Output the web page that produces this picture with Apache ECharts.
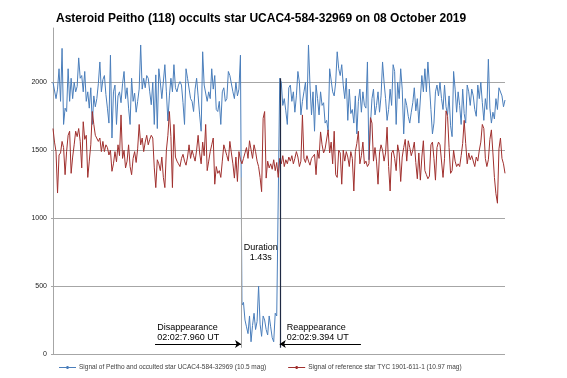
<!DOCTYPE html>
<html>
<head>
<meta charset="utf-8">
<script src="https://cdn.jsdelivr.net/npm/echarts@6/dist/echarts.min.js"></script>
<style>
  html, body { margin: 0; padding: 0; background: #fff; }
  #main { width: 567px; height: 378px; }
</style>
</head>
<body>
<div id="main"></div>
<script>
var seriesNames = ['Signal of Peitho and occulted star UCAC4-584-32969 (10.5 mag)',
                   'Signal of reference star TYC 1901-611-1 (10.97 mag)'];

// occulted star, frame by frame
var peitho = [
  2000, 1990, 1880, 1950, 2100, 1860, 2250, 1690, 1810, 1785, 2100, 1860, 2030, 1880, 2000, 1930, 1970, 2180,
  2030, 2050, 1930, 2080, 1860, 1930, 1810, 1960, 1690, 1900, 1820, 1880, 1990, 2150, 1930, 2020, 2050, 1910, 1810, 1700,
  2200, 1590, 1930, 1980, 1690, 1900, 1930, 1850, 1990, 2080, 1880, 1960, 1810, 1690, 2030, 1860, 1920, 1780, 1860, 1950,
  2275, 1950, 2030, 1960,
  2050, 2030, 1930, 1835, 2000, 1690, 2055, 1660, 2100, 2000, 1880, 1880, 2130, 1930, 1715, 1900, 2030, 1930, 2130, 1960,
  1930, 1980, 2005, 1980, 1850, 1690, 2100, 2030, 2030, 1880, 1860, 1785, 1950, 2030, 1900, 1760, 1640, 2225, 1980, 1980,
  1860, 1930, 1880, 2100, 1950, 2050, 1800, 1785, 1860, 1690, 1930, 1960, 1860, 1880, 2080, 2050, 2050, 1930, 1880, 2000,
  1900, 1950, 2200,
  360, 380, 250, 200, 150, 280, 90, 210, 300, 180, 240, 500, 220, 130, 280, 250, 180, 140, 280, 200, 120, 90, 300, 280, 270,
  2030, 2000, 1830, 1880, 1790, 1690, 1960, 1980, 1860, 1930, 1780, 1900, 2080, 2000, 1760, 1860, 1930, 2000, 1800, 2275,
  1980, 1760, 1930, 1640, 1980, 1880, 1760, 1930, 1830, 1850, 1700,
  1720, 1640, 2100, 2100, 1930, 1900, 2000, 2225, 2100, 2050, 2130, 1980, 1880, 2030, 1720, 1950, 1770, 1800, 1700, 1900,
  1620, 1860, 1950, 1780, 1930, 1830, 1810, 2150, 1430, 1690, 1880, 1950, 1760, 1830, 1930, 1780, 1900, 2150, 2000, 1880,
  1720, 1800, 1950, 1830, 2130, 2080, 1690, 2000, 1880, 2100, 1950, 1620, 1880, 1830, 1750, 1700, 1780, 1850, 1960, 1790,
  1880, 1700, 1700, 2050, 1930, 2100, 1930, 2150, 1980, 1800, 1620, 1700, 1930, 1980, 1900, 2000, 1880, 1800, 1980, 1820,
  1760, 1900, 1680, 1600, 2080, 1950, 1780, 1930, 1830, 1690, 1950, 1770, 1700, 1980, 1930, 1830, 1950, 1900, 1800, 1750,
  1980, 1880, 2000, 1850, 1720, 1880, 1800, 2170, 1810, 1700, 1780, 1730, 1880, 1800, 1960, 1960, 1900, 1820, 1870
];

// reference star
var reference = [
  1660, 1560, 1490, 1185, 1465, 1480, 1565, 1520, 1320, 1490, 1610, 1640, 1330, 1450, 1540, 1640, 1600, 1660, 1565, 1370,
  1710, 1580, 1610, 1300, 1420, 1540, 1785, 1690, 1610, 1620, 1565, 1590, 1490, 1565, 1490, 1540, 1520, 1465, 1500, 1345,
  1400, 1490, 1415, 1540, 1460, 1760, 1440, 1500, 1370, 1420, 1540, 1380, 1320, 1440, 1490, 1410, 1510, 1690, 1540, 1590,
  1490, 1560,
  1610, 1540, 1580, 1610, 1590, 1370, 1225, 1430, 1400, 1350, 1450, 1300, 1225, 1500, 1610, 1785, 1600, 1225, 1690, 1450,
  1420, 1400, 1380, 1440, 1470, 1420, 1390, 1450, 1540, 1440, 1500, 1460, 1420, 1500, 1610, 1480, 1400, 1560, 1460, 1690,
  1350, 1420, 1490, 1540, 1590, 1250, 1380, 1330, 1350, 1300, 1420, 1540, 1550, 1460, 1420, 1565, 1480, 1400, 1295, 1450,
  1270, 1490, 1430,
  1400, 1440, 1480, 1520, 1440, 1570, 1565, 1440, 1540, 1490, 1420, 1380, 1300, 1195, 1735, 1785, 1295, 1420, 1370, 1400,
  1360, 1430, 1350, 1410, 1300,
  1440, 1400, 1460, 1380, 1430, 1400, 1450, 1420, 1460, 1400, 1440, 1490, 1450, 1380, 1420, 1760, 1440, 1410, 1460, 1420,
  1390, 1440, 1430, 1470, 1320, 1500, 1440, 1635, 1540, 1480, 1510,
  1520, 1650, 1480, 1560, 1400, 1640, 1320, 1300, 1500, 1480, 1250, 1500, 1420, 1490, 1450, 1380, 1490, 1440, 1200, 1490,
  1550, 1640, 1400, 1460, 1560, 1400, 1420, 1380, 1400, 1740, 1700, 1420, 1520, 1420, 1250, 1480, 1540, 1500, 1420, 1480,
  1670, 1380, 1200, 1480, 1500, 1440, 1350, 1540, 1480, 1270, 1450, 1520, 1580, 1420, 1570, 1520, 1460, 1500, 1560, 1410,
  1290, 1480, 1280, 1450, 1570, 1350, 1320, 1290, 1310, 1540, 1560, 1440, 1280, 1520, 1560, 1540, 1540, 1300, 1440, 1790,
  1750, 1520, 1330, 1350, 1500, 1420, 1380, 1400, 1380, 1460, 1550, 1720, 1550, 1400, 1480, 1430, 1460, 1470, 1380, 1450,
  1420, 1500, 1560, 1690, 1660, 1440, 1380, 1430, 1580, 1650, 1480, 1300, 1180, 1110, 1510, 1590, 1440, 1400, 1330
];

var yTicks = [0, 500, 1000, 1500, 2000];

var peithoData = peitho.map(function(v, i) { return [i, v]; });
var refData = reference.map(function(v, i) { return [i, v]; });

var myChart = echarts.init(document.getElementById('main'));

var annoText = { color: '#000', fontFamily: 'Liberation Sans', fontSize: 9, lineHeight: 10 };

// excel style legend key: thin line with a tiny marker in the middle
var legendKey = 'path://M0,4.5L17,4.5L17,5.5L0,5.5Z M7.5,3.5L9.5,3.5L9.5,6.5L7.5,6.5Z';

option = {
    animation: false,
    title: {
        text: 'Asteroid Peitho (118) occults star UCAC4-584-32969 on 08 October 2019',
        left: 51,
        top: 8,
        textStyle: { fontFamily: 'Liberation Sans', fontWeight: 'bold', fontSize: 12, color: '#000' }
    },
    legend: {
        data: [
            { name: seriesNames[0], icon: legendKey },
            { name: seriesNames[1], icon: legendKey }
        ],
        left: 54,
        top: 359,
        itemWidth: 17,
        itemHeight: 10,
        itemGap: 22,
        textStyle: { fontFamily: 'Liberation Sans', fontSize: 6.5, color: '#404040', padding: [0, 0, 0, -2] }
    },
    grid: { left: 53, right: 62, top: 28, bottom: 24 },
    xAxis: {
        type: 'value',
        min: 0,
        max: peitho.length - 1,
        axisLine: { show: false },
        axisTick: { show: false },
        axisLabel: { show: false },
        splitLine: { show: false }
    },
    yAxis: {
        type: 'value',
        min: 0,
        max: 2400,
        interval: 500,
        axisLine: { show: true, lineStyle: { color: '#a6a6a6' } },
        axisTick: { show: true, length: 2, lineStyle: { color: '#a6a6a6' } },
        axisLabel: {
            showMaxLabel: false,
            margin: 6,
            fontFamily: 'Liberation Sans',
            fontSize: 7,
            color: '#222',
            formatter: function(v) { return yTicks.indexOf(v) >= 0 ? String(v) : ''; }
        },
        splitLine: { showMaxLine: false, lineStyle: { color: '#a6a6a6', width: 1 } }
    },
    series: [
        {
            name: seriesNames[0],
            type: 'line',
            data: peithoData,
            showSymbol: false,
            symbol: 'circle',
            symbolSize: 3,
            color: '#4a7ebb',
            lineStyle: { width: 1, color: '#4a7ebb' },
            markLine: {
                silent: true,
                symbol: 'none',
                label: { show: false },
                data: [
                    [{ coord: [124.6, 46], lineStyle: { color: '#a6a6a6', width: 1, type: 'solid' } }, { coord: [124.6, 1300] }]
                ]
            },
            z: 2
        },
        {
            name: seriesNames[1],
            type: 'line',
            data: refData,
            showSymbol: false,
            symbol: 'circle',
            symbolSize: 3,
            color: '#a0302e',
            lineStyle: { width: 1, color: '#a0302e' },
            markLine: {
                silent: true,
                symbol: 'none',
                symbolSize: 6,
                label: { show: false },
                lineStyle: { color: '#000', width: 1, type: 'solid' },
                data: [
                    [{ coord: [150, 46], lineStyle: { color: '#1f2a44', width: 1.2, type: 'solid' } }, { coord: [150, 2030] }],
                    [{ coord: [67.5, 73], symbol: 'none' }, { coord: [124.4, 73], symbol: 'arrow' }],
                    [{ coord: [203.7, 73], symbol: 'none' }, { coord: [150, 73], symbol: 'arrow' }]
                ]
            },
            markPoint: {
                silent: true,
                symbol: 'circle',
                symbolSize: 1,
                itemStyle: { color: 'rgba(0,0,0,0)' },
                data: [
                    { coord: [69, 160], label: Object.assign({ show: true, position: 'inside', align: 'left', verticalAlign: 'middle', formatter: 'Disappearance\n02:02:7.960 UT' }, annoText) },
                    { coord: [154.6, 160], label: Object.assign({ show: true, position: 'inside', align: 'left', verticalAlign: 'middle', formatter: 'Reappearance\n02:02:9.394 UT' }, annoText) },
                    { coord: [137.4, 745], label: Object.assign({ show: true, position: 'inside', align: 'center', verticalAlign: 'middle', formatter: 'Duration\n1.43s' }, annoText) }
                ]
            },
            z: 3
        }
    ]
};

myChart.setOption(option);
</script>
</body>
</html>
